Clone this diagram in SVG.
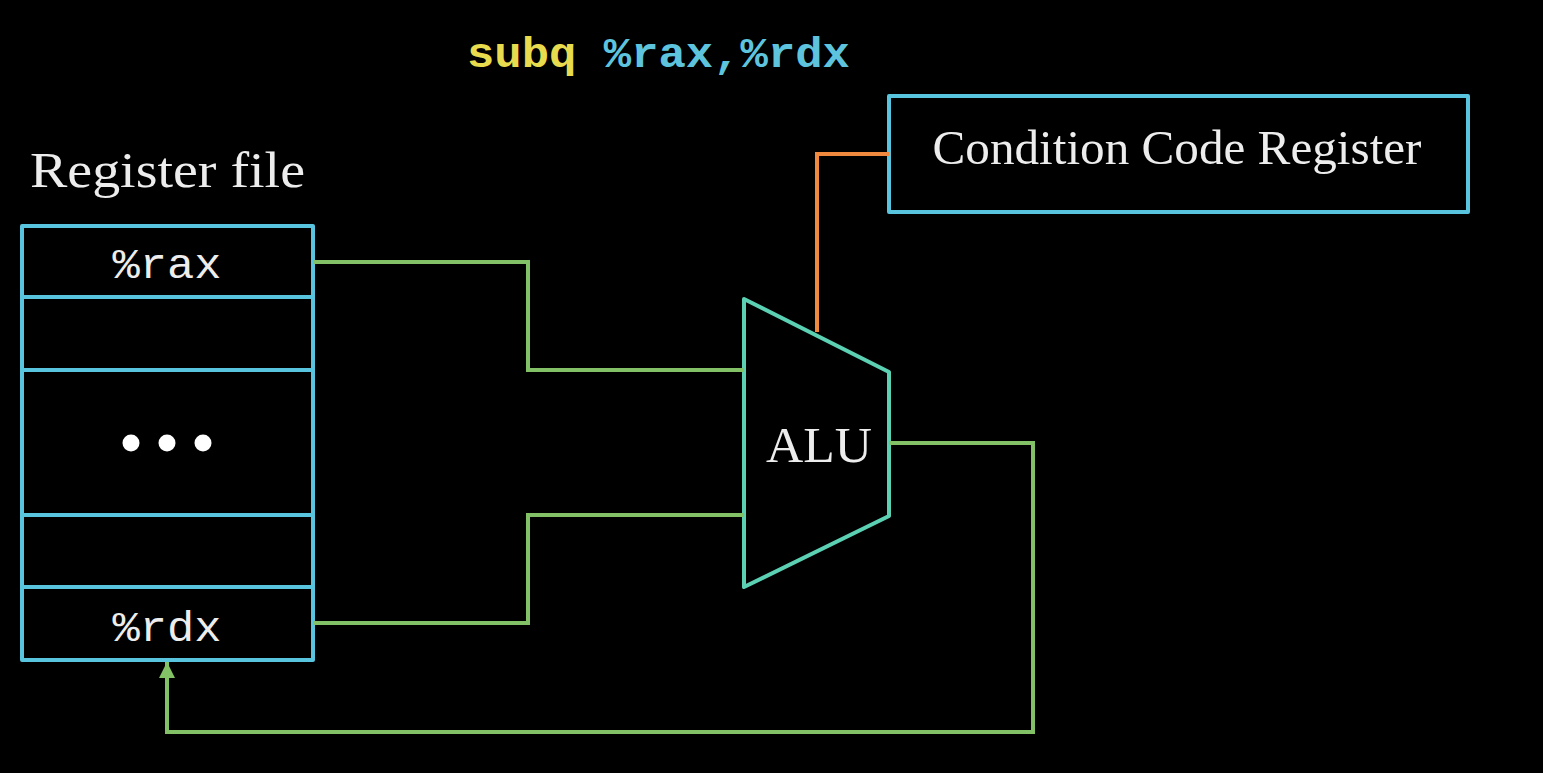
<svg xmlns="http://www.w3.org/2000/svg" width="1543" height="773" viewBox="0 0 1543 773">
<style>
.serif{font-family:"Liberation Serif","DejaVu Serif",serif;fill:#ededed;}
.mono{font-family:"Liberation Mono","DejaVu Sans Mono",monospace;}
.box{fill:none;stroke:#58c4dd;stroke-width:4;stroke-linejoin:round;}
.wire{fill:none;stroke:#83c167;stroke-width:4;stroke-linejoin:miter;}
</style>
<defs>
<marker id="arr" markerWidth="16" markerHeight="16" refX="16" refY="8" orient="auto" markerUnits="userSpaceOnUse" viewBox="0 0 16 16">
<path d="M0,0 L16,8 L0,16 z" fill="#83c167"/>
</marker>
</defs>
<rect x="0" y="0" width="1543" height="773" fill="#000"/>

<g id="instruction">
<text class="mono" x="467" y="67" font-size="42" font-weight="bold" textLength="383" lengthAdjust="spacingAndGlyphs"><tspan fill="#e8dc4e">subq</tspan><tspan fill="#5ec4de"> %rax,%rdx</tspan></text>
</g>

<g id="register-file">
<text class="serif" x="30" y="187" font-size="50" textLength="275" lengthAdjust="spacingAndGlyphs">Register file</text>
<rect class="box" x="22" y="226" width="291" height="434"/>
<line class="box" x1="22" y1="297" x2="313" y2="297"/>
<line class="box" x1="22" y1="370" x2="313" y2="370"/>
<line class="box" x1="22" y1="515" x2="313" y2="515"/>
<line class="box" x1="22" y1="587" x2="313" y2="587"/>
<text class="mono" x="167" y="278" font-size="42" fill="#ededed" text-anchor="middle" textLength="109" lengthAdjust="spacingAndGlyphs">%rax</text>
<circle cx="131" cy="443" r="8.5" fill="#fff"/>
<circle cx="167" cy="443" r="8.5" fill="#fff"/>
<circle cx="203" cy="443" r="8.5" fill="#fff"/>
<text class="mono" x="167" y="641" font-size="42" fill="#ededed" text-anchor="middle" textLength="109" lengthAdjust="spacingAndGlyphs">%rdx</text>
</g>

<g id="alu">
<polygon points="744,299 889,372 889,516 744,587" fill="none" stroke="#5cd0b3" stroke-width="4" stroke-linejoin="round"/>
<text class="serif" x="819" y="462" font-size="50" text-anchor="middle" textLength="106" lengthAdjust="spacingAndGlyphs">ALU</text>
</g>

<g id="ccr">
<rect class="box" x="889" y="96" width="579" height="116"/>
<text class="serif" x="1177" y="164" font-size="48" text-anchor="middle" textLength="489" lengthAdjust="spacingAndGlyphs">Condition Code Register</text>
</g>

<g id="connectors">
<polyline class="wire" points="313,262 528,262 528,370 744,370"/>
<polyline class="wire" points="313,623 528,623 528,515 744,515"/>
<polyline class="wire" points="889,443 1033,443 1033,732 167,732 167,662" marker-end="url(#arr)"/>
<polyline points="817,332 817,154 889,154" fill="none" stroke="#f0883e" stroke-width="4"/>
</g>
</svg>
